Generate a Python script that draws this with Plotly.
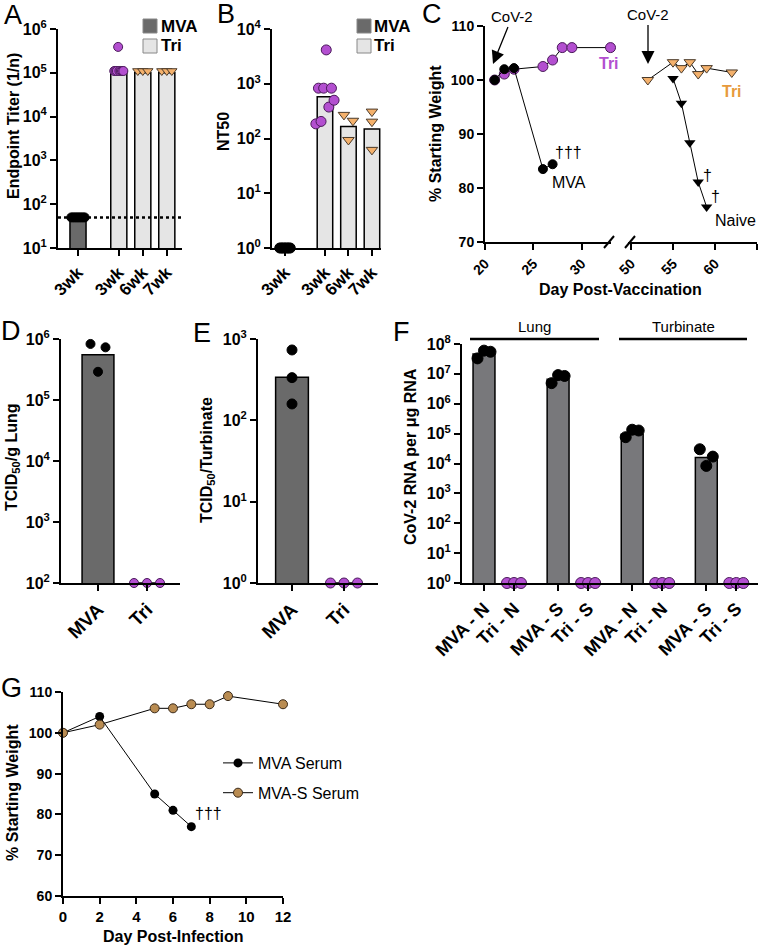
import plotly.graph_objects as go

W, H = 762, 948
FONT = "Liberation Sans"

# ---------------- data ----------------
# Panel A: endpoint titer
A_labels = ["3wk", "3wk", "6wk", "7wk"]
A_groups = ["MVA", "Tri", "Tri", "Tri"]
A_bar = [50, 1.05e5, 1.0e5, 1.0e5]
A_points = [[50] * 8,
            [1.1e5, 1.1e5, 1.1e5, 3.9e5, 1.1e5, 1.1e5, 1.1e5, 1.1e5],
            [1.1e5] * 3,
            [1.1e5] * 3]
A_limit = 50
A_exps = [1, 2, 3, 4, 5, 6]

# Panel B: NT50
B_labels = ["3wk", "3wk", "6wk", "7wk"]
B_groups = ["MVA", "Tri", "Tri", "Tri"]
B_bar = [1, 580, 165, 149]
B_points = [[1] * 8,
            [185, 830, 205, 830, 4150, 375, 830, 500],
            [270, 94, 211],
            [310, 203, 62]]
B_exps = [0, 1, 2, 3, 4]

# Panel C: weight after challenge (day post-vaccination)
C_tri_day = [21, 22, 23, 26, 27, 28, 29, 33]
C_tri_wt = [100, 101.1, 102, 102.5, 103.7, 106, 106, 106]
C_mva_day = [21, 22, 23, 26, 27]
C_mva_wt = [100, 102, 102.2, 83.5, 84.4]
C_tri2_day = [52, 55, 56, 57, 58, 59, 62]
C_tri2_wt = [100, 103.3, 102.2, 103.3, 101.1, 102.2, 101.4]
C_naive_day = [55, 56, 57, 58, 59]
C_naive_wt = [100.3, 95.7, 88.4, 81.1, 76.5]
C_ticks_left = [20, 25, 30]
C_ticks_right = [50, 55, 60, 65]
C_yticks = [70, 80, 90, 100, 110]

# Panel D: TCID50 / g lung
D_labels = ["MVA", "Tri"]
D_bar = [5.5e5, 100]
D_points = [[8.3e5, 2.9e5, 7.3e5], [100, 100, 100]]
D_exps = [2, 3, 4, 5, 6]

# Panel E: TCID50 / turbinate
E_labels = ["MVA", "Tri"]
E_bar = [339, 1]
E_points = [[733, 335, 159], [1, 1, 1]]
E_exps = [0, 1, 2, 3]

# Panel F: CoV-2 RNA
F_labels = ["MVA - N", "Tri - N", "MVA - S", "Tri - S",
            "MVA - N", "Tri - N", "MVA - S", "Tri - S"]
F_tissue = ["Lung"] * 4 + ["Turbinate"] * 4
F_bar = [4.6e7, 1, 6.6e6, 1, 9.5e4, 1, 1.6e4, 1]
F_points = [[3.3e7, 6.0e7, 5.5e7], [1, 1, 1],
            [4.9e6, 9.1e6, 8.5e6], [1, 1, 1],
            [7.6e4, 1.35e5, 1.27e5], [1, 1, 1],
            [3.0e4, 8.3e3, 1.7e4], [1, 1, 1]]
F_exps = [0, 1, 2, 3, 4, 5, 6, 7, 8]

# Panel G: passive transfer
G_mva_day = [0, 2, 5, 6, 7]
G_mva_wt = [100, 104, 85, 81, 77]
G_s_day = [0, 2, 5, 6, 7, 8, 9, 12]
G_s_wt = [100, 102, 106, 106, 107, 107, 109, 107]

# ---------------- styles ----------------
PURPLE = "#b34fd0"
ORANGE = "#f4b16c"
TAN = "#b98c52"
DARK = "#6a6a6a"
LIGHT = "#e5e5e5"


def fx(p):
    return p / W


def fy(p):
    return 1 - p / H


def positions(groups, gap):
    pos, p = [], 0.0
    for i, g in enumerate(groups):
        if i > 0:
            p += 1 + (gap if g != groups[i - 1] else 0)
        pos.append(p)
    return pos


def jitter(n, step):
    return [(i - (n - 1) / 2) * step for i in range(n)]


tickfont = dict(family=FONT, size=16, color="black", weight="bold")
common = dict(showline=True, linecolor="black", linewidth=2, ticks="outside",
              ticklen=6, tickwidth=2, tickcolor="black", showgrid=False,
              zeroline=False, tickfont=tickfont, fixedrange=True)


def log_axis(top, bot, exps, anchor):
    return dict(domain=[fy(bot), fy(top)], type="log", range=[exps[0], exps[-1]],
                tickvals=[10 ** e for e in exps],
                ticktext=[f"10<sup>{e}</sup>" for e in exps],
                anchor=anchor, **common)


def cat_axis(left, right, rng, pos, labels, anchor, size=18):
    d = dict(common)
    d["tickfont"] = dict(tickfont, size=size)
    return dict(domain=[fx(left), fx(right)], range=rng, tickvals=pos,
                ticktext=labels, tickangle=-45, anchor=anchor, **d)


fig = go.Figure()
annotations = []
shapes = []


def ann(text, x, y, size=16, bold=False, color="black", angle=0, xanchor="center", **kw):
    annotations.append(dict(text=text, x=fx(x), y=fy(y), xref="paper", yref="paper",
                            showarrow=False, textangle=angle, xanchor=xanchor, yanchor="middle",
                            font=dict(family=FONT, size=size, color=color,
                                      weight="bold" if bold else "normal"), **kw))


def point_style(kind, size):
    if kind == "mva":
        return dict(symbol="circle", size=size, color="black", line=dict(color="black", width=1))
    if kind == "tri":
        return dict(symbol="circle", size=size, color=PURPLE, line=dict(color="#4a1a5a", width=1))
    return dict(symbol="triangle-down", size=size, color=ORANGE, line=dict(color="#4a3a2a", width=1))


def bar_panel(xa, ya, pos, bars, points, kinds, barcolors, width, steps, msize):
    fig.add_trace(go.Bar(x=pos, y=bars, width=width, xaxis=xa, yaxis=ya,
                         marker=dict(color=barcolors, line=dict(color="black", width=1.5)),
                         showlegend=False, hoverinfo="skip"))
    for p, pts, kind, st in zip(pos, points, kinds, steps):
        offs = jitter(len(pts), st)
        fig.add_trace(go.Scatter(x=[p + o for o in offs], y=pts, mode="markers", xaxis=xa, yaxis=ya,
                                 marker=point_style(kind, msize), cliponaxis=False,
                                 showlegend=False, hoverinfo="skip"))


# ---------------- Panel A ----------------
A_pos = positions(A_groups, 0.7)
A_ppu = 24.0
A_range = [(58 - 78) / A_ppu, (182 - 78) / A_ppu]
A_kinds = ["mva" if g == "MVA" else ("tri" if l == "3wk" else "tri6") for g, l in zip(A_groups, A_labels)]
bar_panel("x", "y", A_pos, A_bar, A_points, A_kinds,
          [DARK if g == "MVA" else LIGHT for g in A_groups], 0.67,
          [s / A_ppu for s in [1.9, 1.3, 5, 5]], 9)
fig.add_trace(go.Scatter(x=A_range, y=[A_limit, A_limit], mode="lines", xaxis="x", yaxis="y",
                         line=dict(color="black", width=2.5, dash="dot"), cliponaxis=False,
                         showlegend=False, hoverinfo="skip"))

# ---------------- Panel B ----------------
B_pos = positions(B_groups, 0.7)
B_ppu = 23.5
B_range = [(272 - 285) / B_ppu, (381 - 285) / B_ppu]
B_kinds = ["mva" if g == "MVA" else ("tri" if l == "3wk" else "tri6") for g, l in zip(B_groups, B_labels)]
bar_panel("x2", "y2", B_pos, B_bar, B_points, B_kinds,
          [DARK if g == "MVA" else LIGHT for g in B_groups], 0.66,
          [s / B_ppu for s in [1.5, 2.6, 4.5, 0]], 10)

# ---------------- Panel C ----------------
line_k = dict(color="black", width=1)
fig.add_trace(go.Scatter(x=C_tri_day, y=C_tri_wt, mode="lines+markers", xaxis="x3", yaxis="y3",
                         line=line_k, marker=point_style("tri", 10), cliponaxis=False,
                         showlegend=False, hoverinfo="skip"))
fig.add_trace(go.Scatter(x=C_mva_day, y=C_mva_wt, mode="lines+markers", xaxis="x3", yaxis="y3",
                         line=line_k, marker=point_style("mva", 9), cliponaxis=False,
                         showlegend=False, hoverinfo="skip"))
fig.add_trace(go.Scatter(x=C_tri2_day, y=C_tri2_wt, mode="lines+markers", xaxis="x4", yaxis="y3",
                         line=line_k, marker=point_style("tri6", 10), cliponaxis=False,
                         showlegend=False, hoverinfo="skip"))
fig.add_trace(go.Scatter(x=C_naive_day, y=C_naive_wt, mode="lines+markers", xaxis="x4", yaxis="y3",
                         line=line_k, marker=dict(symbol="triangle-down", size=10, color="black"),
                         cliponaxis=False, showlegend=False, hoverinfo="skip"))

# ---------------- Panel D ----------------
D_pos = positions(D_labels, 0)
D_ppu = 49.0
D_range = [(61 - 98) / D_ppu, (180 - 98) / D_ppu]
bar_panel("x5", "y5", D_pos, D_bar, D_points, ["mva", "tri"], [DARK, LIGHT], 0.65,
          [s / D_ppu for s in [7.5, 13]], 9)

# ---------------- Panel E ----------------
E_pos = positions(E_labels, 0)
E_ppu = 52.0
E_range = [(258 - 292) / E_ppu, (378 - 292) / E_ppu]
bar_panel("x6", "y6", E_pos, E_bar, E_points, ["mva", "tri"], [DARK, LIGHT], 0.63,
          [s / E_ppu for s in [0, 13.5]], 10)

# ---------------- Panel F ----------------
F_pairs = [t + l.split(" - ")[1] for t, l in zip(F_tissue, F_labels)]
F_pos = positions(F_pairs, 0.47)
F_ppu = 30.0
F_range = [(462 - 484) / F_ppu, (758 - 484) / F_ppu]
F_kinds = ["mva" if l.startswith("MVA") else "tri" for l in F_labels]
bar_panel("x7", "y7", F_pos, F_bar, F_points, F_kinds,
          ["#78787b" if k == "mva" else LIGHT for k in F_kinds], 0.73,
          [s / F_ppu for s in [6.5, 7] * 4], 11)

# ---------------- Panel G ----------------
fig.add_trace(go.Scatter(x=G_mva_day, y=G_mva_wt, mode="lines+markers", xaxis="x8", yaxis="y8",
                         name="MVA Serum", legendgroup="a", line=line_k,
                         marker=dict(symbol="circle", size=9, color="black"), cliponaxis=False,
                         hoverinfo="skip"))
fig.add_trace(go.Scatter(x=G_s_day, y=G_s_wt, mode="lines+markers", xaxis="x8", yaxis="y8",
                         name="MVA-S Serum", legendgroup="b", line=line_k,
                         marker=dict(symbol="circle", size=9, color=TAN, line=dict(color="#3a2a1a", width=1)),
                         cliponaxis=False, hoverinfo="skip"))

# ---------------- axes ----------------
small = dict(common)
small["tickfont"] = dict(tickfont, size=14)

layout_axes = dict(
    xaxis=cat_axis(58, 182, A_range, A_pos, A_labels, "y", 17),
    yaxis=log_axis(29, 248, A_exps, "x"),
    xaxis2=cat_axis(272, 381, B_range, B_pos, B_labels, "y2", 17),
    yaxis2=log_axis(29, 248, B_exps, "x2"),
    xaxis3=dict(domain=[fx(485), fx(611)], range=[20, 33.05], tickvals=C_ticks_left,
                tickangle=-45, anchor="y3", **small),
    xaxis4=dict(domain=[fx(628), fx(757)], range=[49.64, 65], tickvals=C_ticks_right,
                tickangle=-45, anchor="y3", **small),
    yaxis3=dict(domain=[fy(242), fy(26)], range=[70, 110], tickvals=C_yticks,
                anchor="x3", **small),
    xaxis5=cat_axis(61, 180, D_range, D_pos, D_labels, "y5", 19),
    yaxis5=log_axis(339, 583, D_exps, "x5"),
    xaxis6=cat_axis(258, 378, E_range, E_pos, E_labels, "y6", 19),
    yaxis6=log_axis(339, 583, E_exps, "x6"),
    xaxis7=cat_axis(462, 758, F_range, F_pos, F_labels, "y7", 18),
    yaxis7=log_axis(344, 583, F_exps, "x7"),
    xaxis8=dict(domain=[fx(63), fx(283)], range=[0, 12], dtick=2, anchor="y8",
                **dict(small, tickfont=dict(tickfont, size=15))),
    yaxis8=dict(domain=[fy(896), fy(692)], range=[60, 110], dtick=10, anchor="x8", **small),
)

# ---------------- text ----------------
for letter, x, y in [("A", 13, 15), ("B", 226, 14), ("C", 432, 14),
                     ("D", 11, 331), ("E", 202, 333), ("F", 401, 332), ("G", 11, 688)]:
    ann(letter, x, y, size=27)

ann("Endpoint Titer (1/n)", 13, 126, bold=True, angle=-90)
ann("NT50", 224, 132, bold=True, angle=-90)
ann("% Starting Weight", 436, 134, bold=True, angle=-90)
ann("Day Post-Vaccination", 620, 289, bold=True)
ann("TCID<sub>50</sub>/g Lung", 12, 457, bold=True, angle=-90)
ann("TCID<sub>50</sub>/Turbinate", 207, 460, bold=True, angle=-90)
ann("CoV-2 RNA per μg RNA", 410, 457, bold=True, angle=-90)
ann("% Starting Weight", 12, 793, bold=True, angle=-90)
ann("Day Post-Infection", 173, 936, bold=True)

# legends A and B
for (sx, tx) in [(143, 159), (357, 372)]:
    for name, col, yc in [("MVA", DARK, 26), ("Tri", LIGHT, 46)]:
        shapes.append(dict(type="rect", xref="paper", yref="paper",
                           x0=fx(sx), x1=fx(sx + 14), y0=fy(yc + 7), y1=fy(yc - 7),
                           fillcolor=col, line=dict(color="#888888", width=1)))
        ann(name, tx, yc, size=17, bold=True, xanchor="left")

# panel C annotations
for hx, hy, axo, ayo in [(493, 64, 19, -47), (648, 64, 0, -49)]:
    annotations.append(dict(text="CoV-2", x=fx(hx), y=fy(hy), xref="paper", yref="paper",
                            showarrow=True, ax=axo, ay=ayo, arrowhead=2, arrowsize=2,
                            arrowwidth=1.3, arrowcolor="black", standoff=0,
                            font=dict(family=FONT, size=15, color="black")))
ann("Tri", 609, 64, size=16, bold=True, color=PURPLE)
ann("†††", 568, 153, size=16)
ann("MVA", 569, 182, size=16)
ann("Tri", 732, 91, size=16, bold=True, color="#e79a3c")
ann("†", 707, 175, size=16)
ann("†", 715, 197, size=16)
ann("Naive", 735, 220, size=16)

# axis break marks
for x0 in [604, 625]:
    shapes.append(dict(type="line", xref="paper", yref="paper", x0=fx(x0), y0=fy(248),
                       x1=fx(x0 + 10), y1=fy(236), line=dict(color="black", width=2)))

# panel F tissue bars
for name, x0, x1 in [("Lung", 470, 599), ("Turbinate", 619, 747)]:
    shapes.append(dict(type="line", xref="paper", yref="paper", x0=fx(x0), y0=fy(339),
                       x1=fx(x1), y1=fy(339), line=dict(color="black", width=2.5)))
    ann(name, (x0 + x1) / 2, 326, size=15)

# panel G
ann("†††", 208, 813, size=16)

fig.update_layout(
    width=W, height=H, margin=dict(l=0, r=0, t=0, b=0),
    paper_bgcolor="white", plot_bgcolor="white", template="none",
    font=dict(family=FONT, color="black"),
    bargap=0, barmode="overlay",
    annotations=annotations, shapes=shapes,
    showlegend=True,
    legend=dict(x=fx(218), y=fy(746), xanchor="left", yanchor="top",
                font=dict(family=FONT, size=16, color="black"),
                bgcolor="rgba(0,0,0,0)", tracegroupgap=6, itemwidth=30),
    **layout_axes,
)

fig.write_html("out.html", config={"displayModeBar": False, "staticPlot": True},
               post_script="document.body.style.margin='0';document.body.style.overflow='hidden';")
